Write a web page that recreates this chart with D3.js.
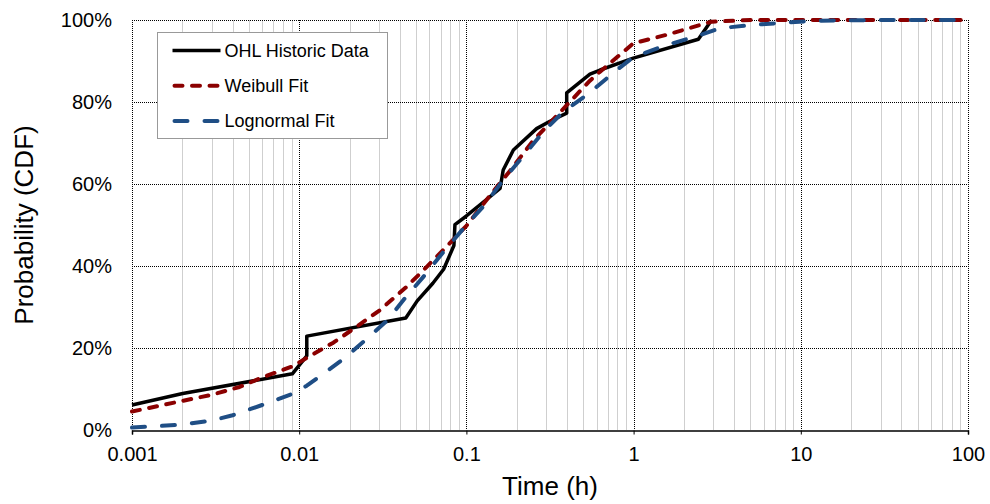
<!DOCTYPE html>
<html>
<head>
<meta charset="utf-8">
<style>
body { margin: 0; background: #fff; }
#chart { font-family: "Liberation Sans", Arial, sans-serif; }
</style>
</head>
<body>
<svg id="chart" width="990" height="504"></svg>
<script src="https://cdn.jsdelivr.net/npm/d3@7"></script>
<script>

// time values (h) and cumulative probability (%)
var histTime = [0.001, 0.00201, 0.0091, 0.0111, 0.0111, 0.0434, 0.0508, 0.063, 0.0731, 0.0842, 0.0854, 0.1, 0.159, 0.166, 0.191, 0.263, 0.316, 0.398, 0.398, 0.548, 0.63, 0.996, 2.44, 2.93];
var histProb = [6.1, 8.9, 13.7, 18.1, 22.9, 27.3, 31.5, 35.8, 39.2, 45.0, 50.1, 52.2, 58.9, 63.4, 68.3, 73.5, 75.3, 77.3, 82.2, 86.8, 87.8, 90.7, 95.3, 100];

var weibullTime = [0.001, 0.002, 0.003, 0.0044, 0.006, 0.0091, 0.0111, 0.016, 0.021, 0.0303, 0.0441, 0.0579, 0.076, 0.1, 0.133, 0.182, 0.25, 0.346, 0.548, 0.63, 0.996, 1.58, 2.93, 5, 100];
var weibullProb = [4.5, 7.1, 8.6, 10.5, 12.8, 15.5, 17.6, 21.3, 24.6, 29.2, 35.0, 39.8, 44.7, 49.8, 56.3, 63.2, 70.5, 76.6, 85.2, 87.4, 94.3, 96.4, 99.6, 100, 100];

var lognTime = [0.001, 0.002, 0.003, 0.004, 0.006, 0.0091, 0.0111, 0.0188, 0.0253, 0.0334, 0.0434, 0.0554, 0.0728, 0.1, 0.1267, 0.1664, 0.2189, 0.288, 0.379, 0.548, 0.75, 1.0, 1.58, 2.44, 3.3, 5.2, 8.2, 12, 30, 100];
var lognProb = [0.6, 1.3, 2.3, 3.6, 6.1, 8.8, 10.8, 17.6, 22.2, 26.6, 32.4, 37.4, 43.4, 50.0, 54.6, 61.0, 66.8, 72.7, 77.6, 82.3, 87.0, 91.0, 93.9, 96.2, 98.0, 98.8, 99.4, 99.8, 100, 100];

var xTicks = [0.001, 0.01, 0.1, 1, 10, 100];
var xTickLabels = ["0.001", "0.01", "0.1", "1", "10", "100"];
var yTicks = [0, 20, 40, 60, 80, 100];

var svg = d3.select("#chart"),
	pLeft = 132, pRight = 968, pTop = 20, pBottom = 430;

var x = d3.scaleLog().domain([0.001, 100]).range([pLeft, pRight]);
var y = d3.scaleLinear().domain([0, 100]).range([pBottom, pTop]);

// minor grid (2..9 in each decade)
var minor = x.ticks().filter(function(t) { return xTicks.indexOf(t) < 0 && t < 100; });
svg.append("g").selectAll("line")
	.data(minor)
	.enter().append("line")
		.attr("x1", function(d) { return Math.round(x(d)) + 0.5; })
		.attr("x2", function(d) { return Math.round(x(d)) + 0.5; })
		.attr("y1", pTop)
		.attr("y2", pBottom)
		.attr("stroke", "#cfcfcf")
		.attr("stroke-width", 1);

// major grid, dotted
svg.append("g").selectAll("line")
	.data(xTicks)
	.enter().append("line")
		.attr("x1", function(d) { return Math.round(x(d)) + 0.5; })
		.attr("x2", function(d) { return Math.round(x(d)) + 0.5; })
		.attr("y1", pTop)
		.attr("y2", pBottom)
		.attr("stroke", "#000")
		.attr("stroke-dasharray", "1,1");

svg.append("g").selectAll("line")
	.data(yTicks.slice(1))
	.enter().append("line")
		.attr("x1", pLeft)
		.attr("x2", pRight)
		.attr("y1", function(d) { return Math.round(y(d)) + 0.5; })
		.attr("y2", function(d) { return Math.round(y(d)) + 0.5; })
		.attr("stroke", "#000")
		.attr("stroke-dasharray", "1,1");

// bottom axis
var xAxis = svg.append("g")
	.attr("transform", "translate(0," + (pBottom + 0.5) + ")")
	.call(d3.axisBottom(x).tickValues(xTicks).tickSize(4).tickPadding(12)
		.tickFormat(function(d, i) { return xTickLabels[i]; }));
xAxis.select(".domain").attr("stroke", "#000").attr("stroke-width", 1.5);
xAxis.selectAll("text").attr("font-size", "20px").attr("font-family", "Liberation Sans, Arial").attr("fill", "#000");

// left labels
svg.append("g").selectAll("text")
	.data(yTicks)
	.enter().append("text")
		.attr("x", pLeft - 20)
		.attr("y", function(d) { return y(d); })
		.attr("dy", "0.35em")
		.attr("text-anchor", "end")
		.attr("font-size", "20px")
		.text(function(d) { return d + "%"; });

// series
var line = d3.line()
	.x(function(d) { return x(d[0]); })
	.y(function(d) { return y(d[1]); });

var series = [
	{ name: "OHL Historic Data", t: histTime, p: histProb, color: "#000000", width: 3.5, dash: null, cap: "butt" },
	{ name: "Weibull Fit", t: weibullTime, p: weibullProb, color: "#8b0000", width: 4, dash: "8,9.5", cap: "round" },
	{ name: "Lognormal Fit", t: lognTime, p: lognProb, color: "#1f4e85", width: 4, dash: "13,17", cap: "round" }
];

svg.append("g").selectAll("path")
	.data(series)
	.enter().append("path")
		.attr("d", function(s) { return line(d3.zip(s.t, s.p)); })
		.attr("fill", "none")
		.attr("stroke", function(s) { return s.color; })
		.attr("stroke-width", function(s) { return s.width; })
		.attr("stroke-dasharray", function(s) { return s.dash; })
		.attr("stroke-linecap", function(s) { return s.cap; })
		.attr("stroke-linejoin", "round");

// legend
var legend = svg.append("g").attr("transform", "translate(157.5,32.5)");
legend.append("rect")
	.attr("width", 230)
	.attr("height", 106)
	.attr("fill", "#fff")
	.attr("stroke", "#999");

var item = legend.selectAll("g")
	.data(series)
	.enter().append("g")
		.attr("transform", function(d, i) { return "translate(0," + (18 + i * 35.3) + ")"; });

item.append("line")
	.attr("x1", function(s) { return s.cap === "round" ? 17 : 15; })
	.attr("x2", function(s) { return s.cap === "round" ? 61 : 63; })
	.attr("stroke", function(s) { return s.color; })
	.attr("stroke-width", function(s) { return s.width; })
	.attr("stroke-dasharray", function(s) { return s.dash; })
	.attr("stroke-linecap", function(s) { return s.cap; });

item.append("text")
	.attr("x", 67)
	.attr("dy", "0.35em")
	.attr("font-size", "18px")
	.text(function(s) { return s.name; });

// axis titles
svg.append("text")
	.attr("x", (pLeft + pRight) / 2)
	.attr("y", 495)
	.attr("text-anchor", "middle")
	.attr("font-size", "26px")
	.text("Time (h)");

svg.append("text")
	.attr("transform", "translate(33," + ((pTop + pBottom) / 2) + ") rotate(-90)")
	.attr("text-anchor", "middle")
	.attr("font-size", "26px")
	.text("Probability (CDF)");

</script>
</body>
</html>
